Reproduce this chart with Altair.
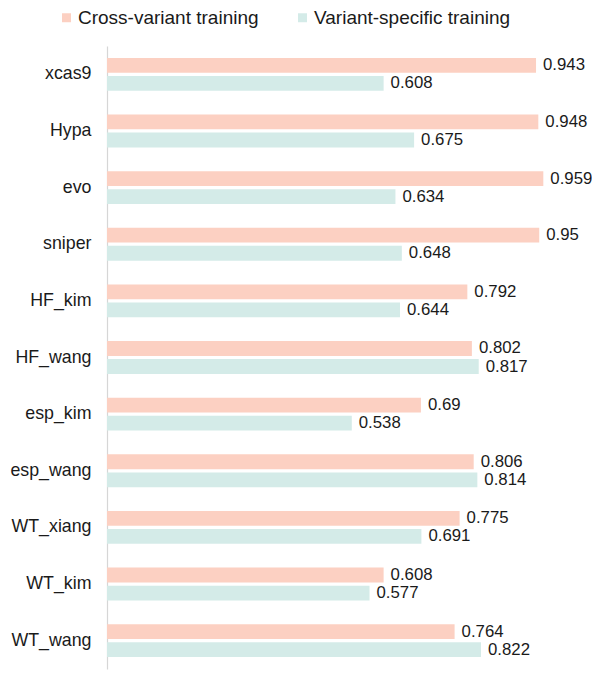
import altair as alt
import pandas as pd

categories = ["xcas9", "Hypa", "evo", "sniper", "HF_kim", "HF_wang",
              "esp_kim", "esp_wang", "WT_xiang", "WT_kim", "WT_wang"]
series = ["Cross-variant training", "Variant-specific training"]
cross_variant = [0.943, 0.948, 0.959, 0.95, 0.792, 0.802, 0.69, 0.806, 0.775, 0.608, 0.764]
variant_specific = [0.608, 0.675, 0.634, 0.648, 0.644, 0.817, 0.538, 0.814, 0.691, 0.577, 0.822]
colors = ["#FCD0C2", "#D4EBE8"]

rows = []
for c, a, b in zip(categories, cross_variant, variant_specific):
    rows.append({"cat": c, "series": series[0], "value": a, "label": str(a)})
    rows.append({"cat": c, "series": series[1], "value": b, "label": str(b)})
df = pd.DataFrame(rows)

FONT = "Liberation Sans"

y_enc = alt.Y("cat:N", sort=categories,
              scale=alt.Scale(paddingInner=0.42, paddingOuter=0.21),
              axis=alt.Axis(title=None, ticks=False, grid=False, domain=True,
                            domainColor="#d6d6d6", domainWidth=1.2,
                            labelFontSize=17.8, labelFont=FONT, labelColor="#1a1a1a",
                            labelPadding=16))
yoff_enc = alt.YOffset("series:N", sort=series,
                       scale=alt.Scale(paddingInner=0.18, paddingOuter=0))
x_enc = alt.X("value:Q", scale=alt.Scale(domain=[0, 1.066], nice=False, zero=True), axis=None)

bars = alt.Chart(df).mark_bar(cornerRadius=0).encode(
    x=x_enc,
    y=y_enc,
    yOffset=yoff_enc,
    color=alt.Color("series:N", sort=series,
                    scale=alt.Scale(domain=series, range=colors),
                    legend=alt.Legend(title=None, orient="none", direction="horizontal",
                                      legendX=-50, legendY=-38,
                                      symbolType="square", symbolSize=81,
                                      symbolStrokeWidth=0, symbolOpacity=1,
                                      labelFontSize=19, labelFont=FONT,
                                      labelColor="#1a1a1a", labelOffset=2,
                                      labelLimit=0, columnPadding=34)),
)

texts = alt.Chart(df).mark_text(align="left", baseline="middle", dx=7,
                                fontSize=16.8, font=FONT, color="#1a1a1a").encode(
    x=x_enc,
    y=alt.Y("cat:N", sort=categories),
    yOffset=alt.YOffset("series:N", sort=series),
    text="label:N",
)

chart = alt.layer(bars, texts).properties(
    width=485, height=623,
    autosize=alt.AutoSizeParams(type="none"),
    padding={"left": 99, "top": 38, "right": 0, "bottom": 2},
).configure_view(stroke=None)

chart.save("out.html", embed_options={"renderer": "svg", "actions": False})
